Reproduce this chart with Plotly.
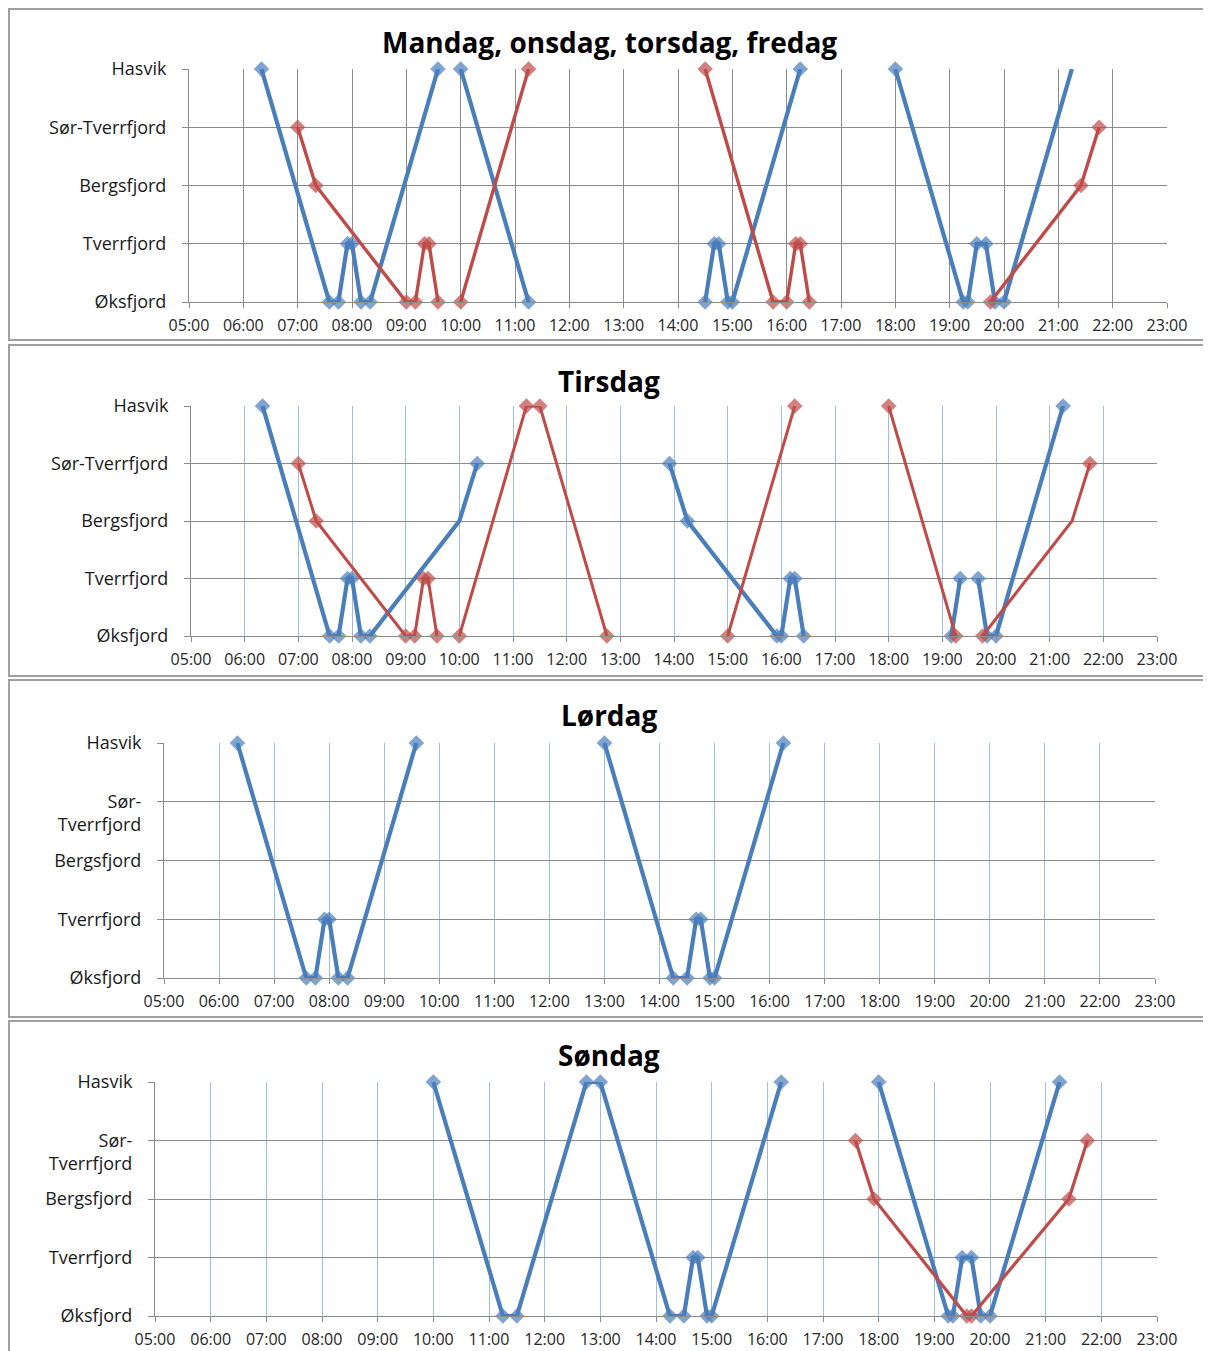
import plotly.graph_objects as go

# The page body adds an 8px margin, so the figure is 8px smaller and all
# reference pixel coordinates are shifted by that offset.
OFF = 8
W, H = 1211 - OFF, 1351 - OFF

# ---------------- data ----------------
STATIONS = ["Øksfjord", "Tverrfjord", "Bergsfjord", "Sør-Tverrfjord", "Hasvik"]
HOURS = list(range(5, 24))
X_TICK_LABELS = [f"{h:02d}:00" for h in HOURS]

TITLES = ["Mandag, onsdag, torsdag, fredag", "Tirsdag", "Lørdag", "Søndag"]

# Panel 1: Mandag, onsdag, torsdag, fredag
p1_blue_time = ["06:20", "07:35", "07:45", "07:55", "08:00", "08:10", "08:20", "09:35", None,
                "10:00", "11:15", None,
                "14:30", "14:40", "14:45", "14:55", "15:00", "16:15", None,
                "18:00", "19:15", "19:20", "19:30", "19:40", "19:50", "20:00", "21:15"]
p1_blue_stop = ["Hasvik", "Øksfjord", "Øksfjord", "Tverrfjord", "Tverrfjord", "Øksfjord", "Øksfjord", "Hasvik", None,
                "Hasvik", "Øksfjord", None,
                "Øksfjord", "Tverrfjord", "Tverrfjord", "Øksfjord", "Øksfjord", "Hasvik", None,
                "Hasvik", "Øksfjord", "Øksfjord", "Tverrfjord", "Tverrfjord", "Øksfjord", "Øksfjord", "Hasvik"]
p1_blue_nomarker = [26]

p1_red_time = ["07:00", "07:20", "09:00", "09:10", "09:20", "09:25", "09:35", None,
               "10:00", "11:15", None,
               "14:30", "15:45", "16:00", "16:10", "16:15", "16:25", None,
               "19:45", "21:25", "21:45"]
p1_red_stop = ["Sør-Tverrfjord", "Bergsfjord", "Øksfjord", "Øksfjord", "Tverrfjord", "Tverrfjord", "Øksfjord", None,
               "Øksfjord", "Hasvik", None,
               "Hasvik", "Øksfjord", "Øksfjord", "Tverrfjord", "Tverrfjord", "Øksfjord", None,
               "Øksfjord", "Bergsfjord", "Sør-Tverrfjord"]
p1_red_nomarker = []

# Panel 2: Tirsdag
p2_blue_time = ["06:20", "07:35", "07:45", "07:55", "08:00", "08:10", "08:20", "10:00", "10:20", None,
                "13:55", "14:15", "15:55", "16:00", "16:10", "16:15", "16:25", None,
                "19:10", "19:20", None, "19:40", "19:50", "20:00", "21:15"]
p2_blue_stop = ["Hasvik", "Øksfjord", "Øksfjord", "Tverrfjord", "Tverrfjord", "Øksfjord", "Øksfjord", "Bergsfjord", "Sør-Tverrfjord", None,
                "Sør-Tverrfjord", "Bergsfjord", "Øksfjord", "Øksfjord", "Tverrfjord", "Tverrfjord", "Øksfjord", None,
                "Øksfjord", "Tverrfjord", None, "Tverrfjord", "Øksfjord", "Øksfjord", "Hasvik"]
p2_blue_nomarker = [7]

p2_red_time = ["07:00", "07:20", "09:00", "09:10", "09:20", "09:25", "09:35", None,
               "10:00", "11:15", "11:30", "12:45", None,
               "15:00", "16:15", None,
               "18:00", "19:15", None,
               "19:45", "21:25", "21:45"]
p2_red_stop = ["Sør-Tverrfjord", "Bergsfjord", "Øksfjord", "Øksfjord", "Tverrfjord", "Tverrfjord", "Øksfjord", None,
               "Øksfjord", "Hasvik", "Hasvik", "Øksfjord", None,
               "Øksfjord", "Hasvik", None,
               "Hasvik", "Øksfjord", None,
               "Øksfjord", "Bergsfjord", "Sør-Tverrfjord"]
p2_red_nomarker = [20]

# Panel 3: Lørdag
p3_blue_time = ["06:20", "07:35", "07:45", "07:55", "08:00", "08:10", "08:20", "09:35", None,
                "13:00", "14:15", "14:30", "14:40", "14:45", "14:55", "15:00", "16:15"]
p3_blue_stop = ["Hasvik", "Øksfjord", "Øksfjord", "Tverrfjord", "Tverrfjord", "Øksfjord", "Øksfjord", "Hasvik", None,
                "Hasvik", "Øksfjord", "Øksfjord", "Tverrfjord", "Tverrfjord", "Øksfjord", "Øksfjord", "Hasvik"]
p3_blue_nomarker = []

# Panel 4: Søndag
p4_blue_time = ["10:00", "11:15", "11:30", "12:45", "13:00", "14:15", "14:30", "14:40", "14:45", "14:55", "15:00", "16:15", None,
                "18:00", "19:15", "19:20", "19:30", "19:40", "19:50", "20:00", "21:15"]
p4_blue_stop = ["Hasvik", "Øksfjord", "Øksfjord", "Hasvik", "Hasvik", "Øksfjord", "Øksfjord", "Tverrfjord", "Tverrfjord", "Øksfjord", "Øksfjord", "Hasvik", None,
                "Hasvik", "Øksfjord", "Øksfjord", "Tverrfjord", "Tverrfjord", "Øksfjord", "Øksfjord", "Hasvik"]
p4_blue_nomarker = []

p4_red_time = ["17:35", "17:55", "19:35", "19:40", "21:25", "21:45"]
p4_red_stop = ["Sør-Tverrfjord", "Bergsfjord", "Øksfjord", "Øksfjord", "Bergsfjord", "Sør-Tverrfjord"]
p4_red_nomarker = []

Y_LABELS_WIDE = ["Øksfjord", "Tverrfjord", "Bergsfjord", "Sør-Tverrfjord", "Hasvik"]
Y_LABELS_WRAP = ["Øksfjord", "Tverrfjord", "Bergsfjord", " <br>Sør-<br>Tverrfjord", "Hasvik"]

# ---------------- helpers ----------------
def to_hours(t):
    if t is None:
        return None
    h, m = t.split(":")
    return int(h) + int(m) / 60.0


def to_y(s):
    return None if s is None else STATIONS.index(s)


def px(x):   # reference x pixel -> paper fraction
    return (x - OFF) / W


def py(y):   # reference y pixel -> paper fraction
    return 1 - (y - OFF) / H


BLUE = "#4a7ebb"
RED = "#be4b48"
GRID_GRAY = "#8c8c8c"
GRID_BLUE = "#9cbde6"
FONT = "Open Sans"

# panel geometry (reference pixels): plot area left, right, top, bottom; box top, bottom
panels = [
    dict(l=189, r=1167, t=69, b=302, bt=8, bb=340, title_y=42, vgrid=GRID_GRAY, ylab=Y_LABELS_WIDE,
         series=[(p1_blue_time, p1_blue_stop, p1_blue_nomarker, BLUE, 4.2),
                 (p1_red_time, p1_red_stop, p1_red_nomarker, RED, 3.4)]),
    dict(l=191, r=1157, t=406, b=636, bt=345, bb=676, title_y=381, vgrid=GRID_BLUE, ylab=Y_LABELS_WIDE,
         series=[(p2_blue_time, p2_blue_stop, p2_blue_nomarker, BLUE, 4.2),
                 (p2_red_time, p2_red_stop, p2_red_nomarker, RED, 3.0)]),
    dict(l=164, r=1155, t=743, b=978, bt=680, bb=1017, title_y=715, vgrid=GRID_BLUE, ylab=Y_LABELS_WRAP,
         series=[(p3_blue_time, p3_blue_stop, p3_blue_nomarker, BLUE, 4.2)]),
    dict(l=155, r=1157, t=1082, b=1316, bt=1021, bb=1365, title_y=1055, vgrid=GRID_BLUE, ylab=Y_LABELS_WRAP,
         series=[(p4_blue_time, p4_blue_stop, p4_blue_nomarker, BLUE, 4.2),
                 (p4_red_time, p4_red_stop, p4_red_nomarker, RED, 3.2)]),
]

fig = go.Figure()
layout = dict(
    width=W, height=H, margin=dict(l=0, r=0, t=0, b=0, pad=0, autoexpand=False),
    paper_bgcolor="white", plot_bgcolor="white", showlegend=False,
    font=dict(family=FONT, color="#1a1a1a"),
)
shapes = []
annotations = []

for i, p in enumerate(panels, start=1):
    xa = "x" if i == 1 else f"x{i}"
    ya = "y" if i == 1 else f"y{i}"
    for times, stops, nomark, color, lw in p["series"]:
        sizes = [0 if k in nomark else 12 for k in range(len(times))]
        fig.add_trace(go.Scatter(
            x=[to_hours(t) for t in times], y=[to_y(s) for s in stops],
            mode="lines+markers", xaxis=xa, yaxis=ya, cliponaxis=False,
            line=dict(color=color, width=lw),
            marker=dict(symbol="diamond", size=sizes, color=color, line=dict(width=0)),
            connectgaps=False, hoverinfo="skip",
        ))
    layout["xaxis" if i == 1 else f"xaxis{i}"] = dict(
        domain=[px(p["l"]), px(p["r"])], anchor=ya, automargin=False,
        range=[5, 23], tickmode="array", tickvals=HOURS, ticktext=X_TICK_LABELS,
        showgrid=True, gridcolor=p["vgrid"], gridwidth=1,
        showline=True, linecolor=GRID_GRAY, linewidth=1,
        ticks="outside", ticklen=5, tickcolor=GRID_GRAY, ticklabelstandoff=4,
        tickfont=dict(family=FONT, size=16, color="#262626"),
        zeroline=False, fixedrange=True,
    )
    layout["yaxis" if i == 1 else f"yaxis{i}"] = dict(
        domain=[py(p["b"]), py(p["t"])], anchor=xa, automargin=False,
        range=[0, 4], tickmode="array", tickvals=list(range(5)), ticktext=p["ylab"],
        showgrid=True, gridcolor=GRID_GRAY, gridwidth=1,
        showline=True, linecolor=GRID_GRAY, linewidth=1,
        ticks="outside", ticklen=6, tickcolor=GRID_GRAY,
        ticklabelstandoff=12,
        tickfont=dict(family=FONT, size=18, color="#1a1a1a"),
        zeroline=False, fixedrange=True,
    )
    shapes.append(dict(type="rect", xref="paper", yref="paper",
                       x0=1 / W, x1=px(1210), y0=py(p["bb"]), y1=min(py(p["bt"]), 1 - 1 / H),
                       line=dict(color="#a0a0a0", width=2), fillcolor="rgba(0,0,0,0)", layer="below"))
    annotations.append(dict(text=f"<b>{TITLES[i-1]}</b>", xref="paper", yref="paper",
                            x=px(609), y=py(p["title_y"]), xanchor="center", yanchor="middle",
                            showarrow=False, font=dict(family=FONT, size=28, color="#000000")))

layout["shapes"] = shapes
layout["annotations"] = annotations
fig.update_layout(**layout)
fig.write_html("out.html")
